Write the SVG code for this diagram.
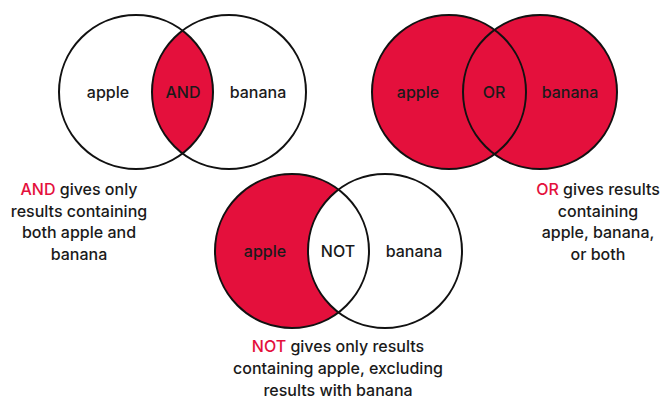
<svg xmlns="http://www.w3.org/2000/svg" width="664" height="401" viewBox="0 0 664 401">
<style>
.c{fill:none;stroke:#111;stroke-width:2}
.r{fill:#e4103c}
.w{fill:#fff}
.lbl{font-family:Inter,"Liberation Sans",sans-serif;font-size:16px;font-weight:500;fill:#1a1a1a;text-anchor:middle}
.cap{font-family:Inter,"Liberation Sans",sans-serif;font-size:16px;font-weight:500;fill:#1a1a1a;text-anchor:middle}
.hl{fill:#e4103c}
</style>
<rect width="664" height="401" fill="#fff"/>
<g id="and-venn">
<path class="r" d="M182.5,30.63 A77,77 0 0,1 182.5,153.37 A77,77 0 0,1 182.5,30.63 Z"/>
<circle class="c" cx="136" cy="92" r="77"/>
<circle class="c" cx="229" cy="92" r="77"/>
<text class="lbl" x="108" y="98">apple</text>
<text class="lbl" x="183" y="98">AND</text>
<text class="lbl" x="258" y="98">banana</text>
</g>
<g id="or-venn">
<circle class="r" cx="449" cy="92" r="77"/>
<circle class="r" cx="540" cy="92" r="77"/>
<circle class="c" cx="449" cy="92" r="77"/>
<circle class="c" cx="540" cy="92" r="77"/>
<text class="lbl" x="418" y="98">apple</text>
<text class="lbl" x="494" y="98">OR</text>
<text class="lbl" x="570" y="98">banana</text>
</g>
<g id="not-venn">
<circle class="r" cx="292" cy="251" r="77"/>
<path class="w" d="M338.5,189.63 A77,77 0 0,1 338.5,312.37 A77,77 0 0,1 338.5,189.63 Z"/>
<circle class="c" cx="292" cy="251" r="77"/>
<circle class="c" cx="385" cy="251" r="77"/>
<text class="lbl" x="265" y="257">apple</text>
<text class="lbl" x="338" y="257">NOT</text>
<text class="lbl" x="414" y="257">banana</text>
</g>
<g id="and-caption">
<text class="cap" x="79" y="195"><tspan class="hl">AND</tspan> gives only</text>
<text class="cap" x="79" y="217">results containing</text>
<text class="cap" x="79" y="238">both apple and</text>
<text class="cap" x="79" y="260">banana</text>
</g>
<g id="or-caption">
<text class="cap" x="598" y="195"><tspan class="hl">OR</tspan> gives results</text>
<text class="cap" x="598" y="217">containing</text>
<text class="cap" x="598" y="238">apple, banana,</text>
<text class="cap" x="598" y="260">or both</text>
</g>
<g id="not-caption">
<text class="cap" x="338" y="352"><tspan class="hl">NOT</tspan> gives only results</text>
<text class="cap" x="338" y="374">containing apple, excluding</text>
<text class="cap" x="338" y="396">results with banana</text>
</g>
</svg>
